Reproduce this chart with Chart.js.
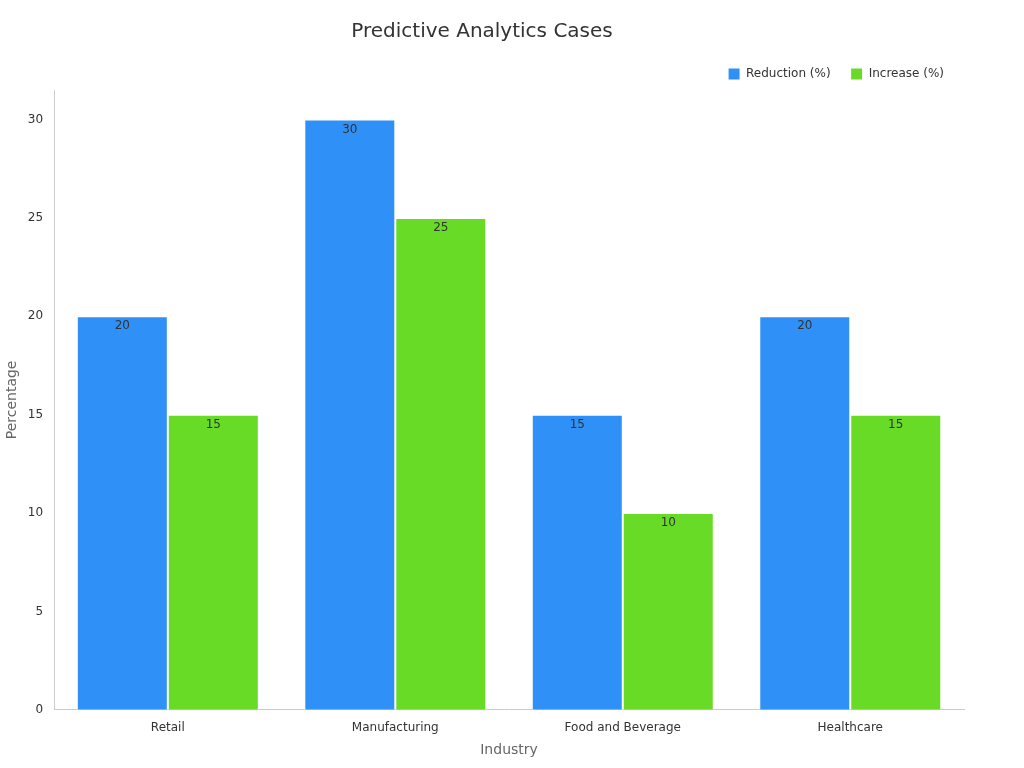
<!DOCTYPE html>
<html><head><meta charset="utf-8">
<script src="https://cdn.jsdelivr.net/npm/chart.js@4"></script>
<style>html,body{margin:0;padding:0;background:#fff}#w{width:1024px;height:768px}</style>
</head><body><div id="w"><canvas id="c"></canvas></div>
<script>
const categories = ["Retail","Manufacturing","Food and Beverage","Healthcare"];
const reduction = [20,30,15,20];
const increase = [15,25,10,15];
const seriesNames = ["Reduction (%)","Increase (%)"];
Chart.defaults.font.family = "'DejaVu Sans', sans-serif";
const labelPlugin = {
  id:'lbl',
  afterDatasetsDraw(chart){
    const ctx = chart.ctx;
    ctx.save();
    ctx.font = "12px 'DejaVu Sans'";
    ctx.fillStyle = "#333";
    ctx.textAlign = "center";
    ctx.textBaseline = "top";
    chart.data.datasets.forEach((ds,i)=>{
      chart.getDatasetMeta(i).data.forEach((b,j)=>{
        ctx.fillText(String(ds.data[j]), b.x, b.y+4);
      });
    });
    ctx.restore();
  }
};
new Chart(document.getElementById('c'),{
  type:'bar',
  data:{labels:categories,datasets:[
    {label:seriesNames[0],data:reduction,backgroundColor:'#2f91f7',borderColor:'#ffffff',borderWidth:1},
    {label:seriesNames[1],data:increase,backgroundColor:'#67db26',borderColor:'#ffffff',borderWidth:1}
  ]},
  options:{
    responsive:true,maintainAspectRatio:false,animation:false,
    layout:{padding:{left:0,right:60,top:10,bottom:5}},
    datasets:{bar:{categoryPercentage:0.8,barPercentage:1.0}},
    plugins:{
      title:{display:true,text:'Predictive Analytics Cases',color:'#333',font:{size:20,weight:'normal'},padding:{top:10,bottom:4}},
      legend:{align:'end',labels:{boxWidth:12,boxHeight:12,color:'#333',font:{size:12},padding:20}},
      tooltip:{enabled:false}
    },
    scales:{
      x:{grid:{display:false},border:{color:'#ccc'},ticks:{color:'#333',font:{size:12}},
         title:{display:true,text:'Industry',color:'#666',font:{size:14}}},
      y:{min:0,max:31.5,grid:{display:false},border:{color:'#ccc'},
         ticks:{stepSize:5,color:'#333',font:{size:12},callback:v=>v%5===0?v:''},
         title:{display:true,text:'Percentage',color:'#666',font:{size:14}}}
    }
  },
  plugins:[labelPlugin]
});
</script></body></html>
